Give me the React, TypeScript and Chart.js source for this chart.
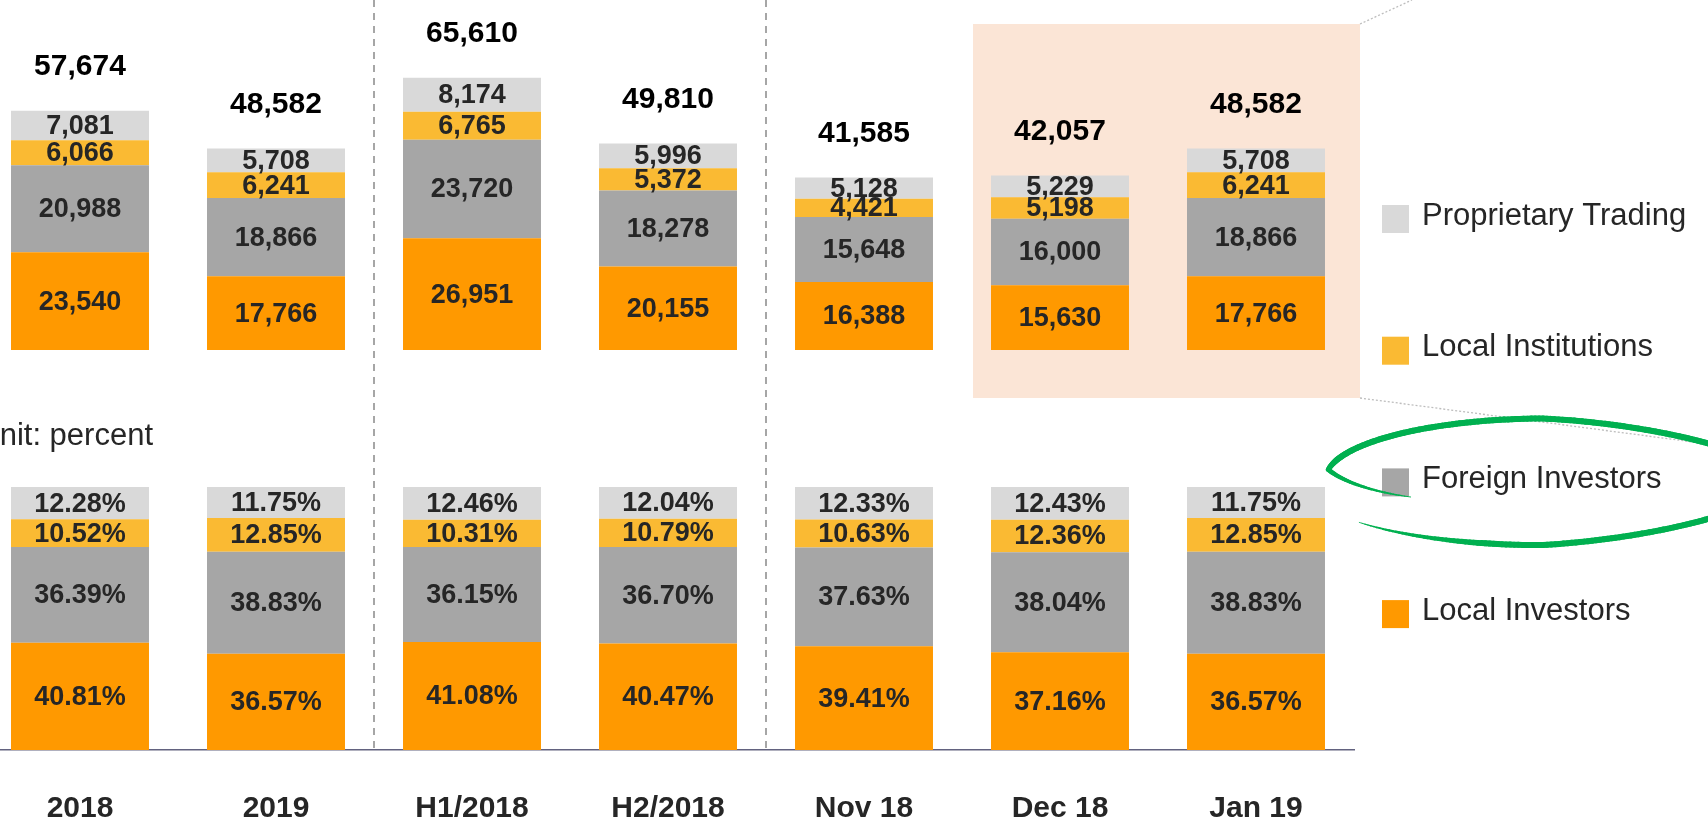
import React, { useEffect, useRef } from 'react';
import { Chart, registerables } from 'chart.js';

Chart.register(...registerables);

// ---------------- DATA ----------------
const categories = ['2018', '2019', 'H1/2018', 'H2/2018', 'Nov 18', 'Dec 18', 'Jan 19'];

const localInvestorsValue = [23540, 17766, 26951, 20155, 16388, 15630, 17766];
const foreignInvestorsValue = [20988, 18866, 23720, 18278, 15648, 16000, 18866];
const localInstitutionsValue = [6066, 6241, 6765, 5372, 4421, 5198, 6241];
const proprietaryValue = [7081, 5708, 8174, 5996, 5128, 5229, 5708];
const totalValue = [57674, 48582, 65610, 49810, 41585, 42057, 48582];

const localInvestorsPct = [40.81, 36.57, 41.08, 40.47, 39.41, 37.16, 36.57];
const foreignInvestorsPct = [36.39, 38.83, 36.15, 36.7, 37.63, 38.04, 38.83];
const localInstitutionsPct = [10.52, 12.85, 10.31, 10.79, 10.63, 12.36, 12.85];
const proprietaryPct = [12.28, 11.75, 12.46, 12.04, 12.33, 12.43, 11.75];

const seriesNames = ['Local Investors', 'Foreign Investors', 'Local Institutions', 'Proprietary Trading'];
const unitText = 'Unit: percent';

// ---------------- STYLE / LAYOUT ----------------
const SHIFT = 18; // canvas starts left of the page edge (reference is cropped)
const CANVAS_W = 1708 + SHIFT;
const CANVAS_H = 868; // bottom part (x labels) is cropped by the page like in the reference
const PLOT_W = 1372;
const FONT = '"Liberation Sans", Arial, Helvetica, sans-serif';
const COLORS = ['#FF9900', '#A6A6A6', '#FABA33', '#D9D9D9'];
const TEXT_DARK = '#262626';

const fmtInt = (v: number) => v.toLocaleString('en-US');
const fmtPct = (v: number) => v.toFixed(2) + '%';

function drawHandEllipse(ctx: CanvasRenderingContext2D) {
  const cx = 1543 + SHIFT;
  const cy = 480;
  const rx = 218;
  const ry = 60;
  const t0 = 155;
  const t1 = 500;
  ctx.save();
  ctx.strokeStyle = '#00B050';
  ctx.lineCap = 'round';
  let px: number | null = null;
  let py = 0;
  for (let d = t0; d <= t1; d += 1) {
    const s = d < 190 ? 0.67 + ((d - t0) / 35) * 0.33 : 1 + ((d - 190) / (t1 - 190)) * 0.1;
    const r = (d * Math.PI) / 180;
    const c = Math.cos(r);
    const sn = Math.sin(r);
    const ryEff = ry - 12 * Math.max(0, c);
    const x = cx + s * rx * c;
    const y = cy + s * ryEff * sn;
    const taper = Math.min(1, (d - t0) / 45, (t1 - d) / 35);
    if (px !== null) {
      ctx.lineWidth = 0.8 + 5.2 * taper;
      ctx.beginPath();
      ctx.moveTo(px, py);
      ctx.lineTo(x, y);
      ctx.stroke();
    }
    px = x;
    py = y;
  }
  ctx.restore();
}

const decorPlugin = {
  id: 'decor',
  beforeDatasetsDraw(chart: any) {
    const { ctx, chartArea, scales } = chart;
    const x = scales.x;
    ctx.save();
    // highlight box behind the last two months
    const b45 = (x.getPixelForValue(4) + x.getPixelForValue(5)) / 2;
    const rl = b45 + 11;
    const rr = chartArea.right + 6;
    const rt = 24;
    const rb = 398;
    ctx.fillStyle = '#FBE5D6';
    ctx.fillRect(rl, rt, rr - rl, rb - rt);
    // dotted "zoom" lines
    ctx.strokeStyle = '#BDBDBD';
    ctx.lineWidth = 1.3;
    ctx.setLineDash([2, 2]);
    ctx.beginPath();
    ctx.moveTo(rr, rt);
    ctx.lineTo(rr + 52, 0);
    ctx.stroke();
    ctx.beginPath();
    ctx.moveTo(rr, rb);
    ctx.lineTo(CANVAS_W, rb + 46);
    ctx.stroke();
    // dashed group separators
    ctx.strokeStyle = '#A6A6A6';
    ctx.lineWidth = 2;
    ctx.setLineDash([7, 6]);
    for (const i of [1, 3]) {
      const bx = Math.round((x.getPixelForValue(i) + x.getPixelForValue(i + 1)) / 2);
      ctx.beginPath();
      ctx.moveTo(bx, chartArea.top);
      ctx.lineTo(bx, chartArea.bottom);
      ctx.stroke();
    }
    ctx.restore();
  },
  afterDatasetsDraw(chart: any) {
    const { ctx } = chart;
    ctx.save();
    ctx.textAlign = 'center';
    ctx.textBaseline = 'middle';
    chart.data.datasets.forEach((ds: any, di: number) => {
      const meta = chart.getDatasetMeta(di);
      const isPct = ds.yAxisID === 'yBot';
      ctx.font = `bold 27px ${FONT}`;
      ctx.fillStyle = TEXT_DARK;
      meta.data.forEach((bar: any, i: number) => {
        const { x, y, base } = bar.getProps(['x', 'y', 'base'], true);
        const v = ds.data[i];
        ctx.fillText(isPct ? fmtPct(v) : fmtInt(v), x, (y + base) / 2 + 1);
      });
    });
    // totals above the value bars
    const topMeta = chart.getDatasetMeta(3);
    ctx.font = `bold 30px ${FONT}`;
    ctx.fillStyle = '#000000';
    topMeta.data.forEach((bar: any, i: number) => {
      ctx.fillText(fmtInt(totalValue[i]), bar.x, bar.y - 44);
    });
    ctx.restore();
  },
  afterDraw(chart: any) {
    const { ctx } = chart;
    ctx.save();
    // unit text (cropped at left in the reference)
    ctx.font = `31px ${FONT}`;
    ctx.fillStyle = TEXT_DARK;
    ctx.textAlign = 'right';
    ctx.textBaseline = 'alphabetic';
    ctx.fillText(unitText, 153 + SHIFT, 445);
    // legend
    const order = [3, 2, 1, 0];
    order.forEach((di, k) => {
      const ds = chart.data.datasets[di];
      const cy = 219 + k * 131.7;
      ctx.fillStyle = ds.backgroundColor;
      ctx.fillRect(1382 + SHIFT, cy - 14, 27, 28);
      ctx.fillStyle = TEXT_DARK;
      ctx.textAlign = 'left';
      ctx.textBaseline = 'middle';
      ctx.font = `31px ${FONT}`;
      ctx.fillText(ds.label, 1422 + SHIFT, cy - 3);
    });
    ctx.restore();
    drawHandEllipse(ctx);
  },
};

export default function App() {
  const ref = useRef<HTMLCanvasElement>(null);

  useEffect(() => {
    if (!ref.current) return;
    Chart.defaults.font.family = FONT;
    const common = {
      stack: 'all',
      barPercentage: 0.704,
      categoryPercentage: 1,
      borderWidth: 0,
    };
    const valueSeries = [localInvestorsValue, foreignInvestorsValue, localInstitutionsValue, proprietaryValue];
    const pctSeries = [localInvestorsPct, foreignInvestorsPct, localInstitutionsPct, proprietaryPct];
    const datasets: any[] = [];
    valueSeries.forEach((d, i) =>
      datasets.push({ ...common, label: seriesNames[i], data: d, backgroundColor: COLORS[i], yAxisID: 'yTop' })
    );
    pctSeries.forEach((d, i) =>
      datasets.push({ ...common, label: seriesNames[i] + ' %', data: d, backgroundColor: COLORS[i], yAxisID: 'yBot' })
    );

    const chart = new Chart(ref.current, {
      type: 'bar',
      data: { labels: categories, datasets },
      options: {
        responsive: false,
        animation: false,
        devicePixelRatio: 1,
        layout: { padding: { left: 0, top: 0, bottom: 0, right: CANVAS_W - PLOT_W } },
        plugins: { legend: { display: false }, tooltip: { enabled: false } },
        scales: {
          x: {
            stacked: true,
            grid: { display: false, drawTicks: false },
            border: { display: true, color: '#62627F', width: 1.5 },
            ticks: {
              color: TEXT_DARK,
              padding: 41,
              font: { family: FONT, size: 30, weight: 'bold' },
            },
          },
          yTop: {
            type: 'linear',
            stacked: true,
            display: false,
            min: -96430,
            max: 84380,
          },
          yBot: {
            type: 'linear',
            stacked: true,
            display: false,
            min: 0,
            max: 285.2,
          },
        },
      } as any,
      plugins: [decorPlugin as any],
    });
    return () => chart.destroy();
  }, []);

  return (
    <div
      style={{
        position: 'fixed',
        left: 0,
        top: 0,
        width: 1708,
        height: 824,
        overflow: 'hidden',
        background: '#ffffff',
      }}
    >
      <canvas
        ref={ref}
        width={CANVAS_W}
        height={CANVAS_H}
        style={{ position: 'absolute', left: -SHIFT, top: 0, width: CANVAS_W, height: CANVAS_H, display: 'block' }}
      />
    </div>
  );
}
